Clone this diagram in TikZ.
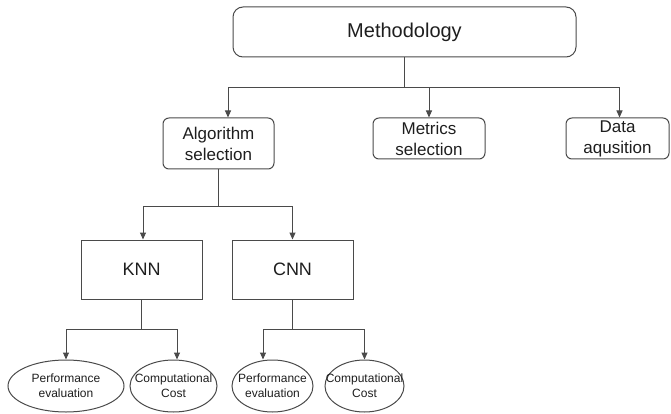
\documentclass[tikz,border=0pt]{standalone}
\usepackage{fontspec}
\setmainfont{Liberation Sans}
\usetikzlibrary{shapes.geometric,arrows.meta}
\definecolor{linegray}{HTML}{4A4A4A}
\definecolor{txtgray}{HTML}{1E1E1E}
\begin{document}
\begin{tikzpicture}[x=1pt,y=-1pt,
  line/.style={draw=linegray, line width=1pt},
  arr/.style={line, -{Triangle[length=7pt,width=6pt]}},
  rbox/.style={line, rounded corners=6pt, inner sep=0pt, align=center, text=txtgray,
    font=\fontsize{17}{21}\selectfont},
  sbox/.style={line, inner sep=0pt, text=txtgray, font=\fontsize{18}{22}\selectfont},
  oval/.style={line, ellipse, inner sep=0pt, minimum height=52pt},
  otext/.style={align=center, text=txtgray, font=\fontsize{12}{15}\selectfont, inner sep=0pt}]
\useasboundingbox (0,0) rectangle (671,414);

\node[rbox, rounded corners=10pt, minimum width=343pt, minimum height=50pt,
  font=\fontsize{20}{24}\selectfont] (meth) at (404.5,32) {Methodology};
\node[rbox, minimum width=111pt, minimum height=51pt] (alg) at (218.5,143.5) {Algorithm\\selection};
\node[rbox, minimum width=112pt, minimum height=41pt] (met) at (429,138.5) {Metrics\\selection};
\node[rbox, minimum width=103pt, minimum height=41pt] (dat) at (617.5,138.5) {Data\\aqusition};
\node[sbox, minimum width=121pt, minimum height=59pt] (knn) at (141.5,269.5) {KNN};
\node[sbox, minimum width=121pt, minimum height=59pt] (cnn) at (292.5,269.5) {CNN};

\node[oval, minimum width=116pt, label={[otext]center:Performance\\evaluation}] (kp) at (66,386) {};
\node[oval, minimum width=87pt, label={[otext]center:Computational\\Cost}] (kc) at (173.5,386) {};
\node[oval, minimum width=81pt, label={[otext]center:Performance\\evaluation}] (cp) at (272.5,386) {};
\node[oval, minimum width=79pt, label={[otext]center:Computational\\Cost}] (cc) at (364.5,386) {};

\coordinate (j1) at (404.5,88);
\draw[line] (meth.south) -- (j1);
\draw[arr] (j1) -| ([xshift=9.5pt]alg.north);
\draw[arr] (j1) -| (met.north);
\draw[arr] (j1) -| ([xshift=2pt]dat.north);

\coordinate (j2) at (218.5,206);
\draw[line] (alg.south) -- (j2);
\draw[arr] (j2) -| ([xshift=1.5pt]knn.north);
\draw[arr] (j2) -| (cnn.north);

\coordinate (j3) at (141.5,329);
\draw[line] (knn.south) -- (j3);
\draw[arr] (j3) -| (kp.north);
\draw[arr] (j3) -| ([xshift=3.5pt]kc.north);

\coordinate (j4) at (292.5,329);
\draw[line] (cnn.south) -- (j4);
\draw[arr] (j4) -| ([xshift=-9.5pt]cp.north);
\draw[arr] (j4) -| (cc.north);
\end{tikzpicture}
\end{document}
